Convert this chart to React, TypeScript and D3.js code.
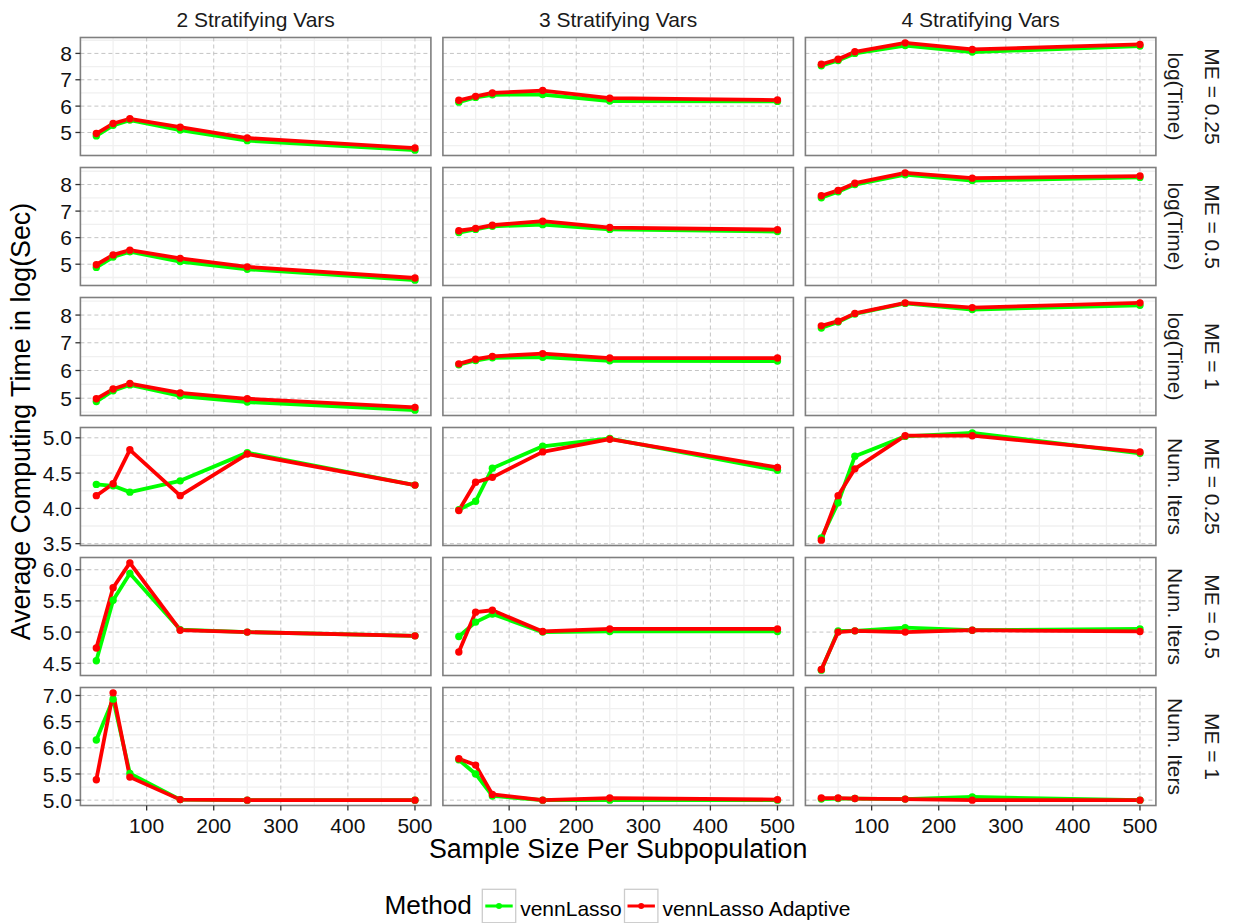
import React from "react";
import * as d3 from "d3";

// ---------- data ----------
const sampleSizes = [25, 50, 75, 150, 250, 500];
const stratVars = ["2 Stratifying Vars", "3 Stratifying Vars", "4 Stratifying Vars"];
const meLevels = ["ME = 0.25", "ME = 0.5", "ME = 1"];
const measures = ["log(Time)", "Num. Iters"];
const methods = ["vennLasso", "vennLasso Adaptive"];
const methodColors = ["#00ff00", "#ff0000"];
const xTicks = [100, 200, 300, 400, 500];

// [ME][stratVars][sampleSize]
const logTimeVennLasso = [
  [
    [4.87, 5.27, 5.47, 5.09, 4.69, 4.33],
    [6.15, 6.33, 6.43, 6.44, 6.19, 6.18],
    [7.53, 7.73, 8.0, 8.3, 8.05, 8.28],
  ],
  [
    [4.88, 5.27, 5.47, 5.1, 4.81, 4.4],
    [6.19, 6.31, 6.43, 6.49, 6.31, 6.23],
    [7.5, 7.73, 8.0, 8.37, 8.15, 8.27],
  ],
  [
    [4.88, 5.27, 5.48, 5.08, 4.86, 4.57],
    [6.21, 6.36, 6.46, 6.48, 6.35, 6.34],
    [7.53, 7.75, 8.04, 8.42, 8.2, 8.35],
  ],
];
const logTimeAdaptive = [
  [
    [4.96, 5.34, 5.52, 5.2, 4.79, 4.41],
    [6.22, 6.37, 6.5, 6.59, 6.3, 6.23],
    [7.59, 7.78, 8.06, 8.4, 8.15, 8.34],
  ],
  [
    [4.98, 5.35, 5.53, 5.22, 4.9, 4.48],
    [6.26, 6.35, 6.47, 6.62, 6.38, 6.3],
    [7.58, 7.78, 8.05, 8.44, 8.24, 8.32],
  ],
  [
    [4.98, 5.33, 5.53, 5.19, 4.98, 4.67],
    [6.24, 6.41, 6.51, 6.61, 6.45, 6.45],
    [7.61, 7.78, 8.06, 8.44, 8.27, 8.44],
  ],
];
const itersVennLasso = [
  [
    [4.34, 4.32, 4.23, 4.39, 4.79, 4.33],
    [3.98, 4.1, 4.57, 4.88, 4.99, 4.54],
    [3.58, 4.08, 4.74, 5.02, 5.07, 4.78],
  ],
  [
    [4.54, 5.51, 5.94, 5.04, 5.0, 4.94],
    [4.93, 5.16, 5.29, 5.0, 5.01, 5.01],
    [4.39, 5.02, 5.02, 5.07, 5.03, 5.05],
  ],
  [
    [6.15, 6.93, 5.51, 5.01, 5.0, 5.0],
    [5.77, 5.5, 5.08, 5.0, 5.0, 5.0],
    [5.02, 5.03, 5.03, 5.02, 5.06, 5.0],
  ],
];
const itersAdaptive = [
  [
    [4.18, 4.35, 4.83, 4.18, 4.77, 4.33],
    [3.97, 4.37, 4.44, 4.8, 4.98, 4.58],
    [3.55, 4.18, 4.56, 5.03, 5.03, 4.8],
  ],
  [
    [4.745, 5.71, 6.11, 5.03, 5.0, 4.94],
    [4.68, 5.32, 5.35, 5.01, 5.05, 5.05],
    [4.4, 5.0, 5.02, 5.0, 5.03, 5.01],
  ],
  [
    [5.39, 7.05, 5.44, 5.01, 5.0, 5.0],
    [5.79, 5.67, 5.11, 5.0, 5.04, 5.01],
    [5.04, 5.04, 5.03, 5.02, 5.0, 5.0],
  ],
];

const measureData = [
  [logTimeVennLasso, logTimeAdaptive],
  [itersVennLasso, itersAdaptive],
];

// ---------- layout ----------
const W = 1233;
const H = 923;
const panelLeft = 80.4;
const panelW = 350.5;
const colGap = 12;
const panelTop = 37.5;
const panelH = 118;
const rowGap = 12;
const FONT = "'Liberation Sans', Arial, Helvetica, sans-serif";
const SMALL = 21;
const BIG = 26.8;

function expand(ext: [number, number]): [number, number] {
  const d = ext[1] - ext[0];
  return [ext[0] - d * 0.05, ext[1] + d * 0.05];
}

const xDomain = expand(d3.extent(sampleSizes) as [number, number]);
const xScale = d3.scaleLinear().domain(xDomain).range([0, panelW]);
const xMinor = [50, 150, 250, 350, 450].filter(
  (v) => v >= xDomain[0] && v <= xDomain[1]
);

const rows = measures.flatMap((m, mi) =>
  meLevels.map((me, ei) => ({ measure: m, me, mi, ei }))
);

export default function App() {
  const lineGen = d3
    .line<number>()
    .x((_, i) => xScale(sampleSizes[i]))
    .y((d) => d);

  return (
    <div style={{ position: "absolute", left: 0, top: 0 }}>
      <svg width={W} height={H} style={{ display: "block", background: "#fff" }}>
        {/* column strips */}
        {stratVars.map((s, ci) => (
          <text
            key={s}
            x={panelLeft + ci * (panelW + colGap) + panelW / 2}
            y={26.5}
            textAnchor="middle"
            fontFamily={FONT}
            fontSize={SMALL}
            fill="#1a1a1a"
          >
            {s}
          </text>
        ))}
        {rows.map((r, ri) => {
          const top = panelTop + ri * (panelH + rowGap);
          const allVals: number[] = [];
          measureData[r.mi].forEach((md) =>
            md[r.ei].forEach((arr) => allVals.push(...arr))
          );
          const yDomain = expand(d3.extent(allVals) as [number, number]);
          const yScale = d3.scaleLinear().domain(yDomain).range([panelH, 0]);
          const yTicks = yScale.ticks(5);
          const step = yTicks[1] - yTicks[0];
          const fmt = yScale.tickFormat(5);
          const yMinor: number[] = [];
          for (let i = -1; i < yTicks.length; i++) {
            const v = yTicks[0] + (i + 0.5) * step;
            if (v >= yDomain[0] && v <= yDomain[1]) yMinor.push(v);
          }
          const isBottom = ri === rows.length - 1;
          return (
            <g key={ri}>
              {stratVars.map((s, ci) => {
                const left = panelLeft + ci * (panelW + colGap);
                return (
                  <g key={s} transform={`translate(${left},${top})`}>
                    <rect x={0} y={0} width={panelW} height={panelH} fill="#fff" />
                    {/* minor grid */}
                    {xMinor.map((v) => (
                      <line
                        key={"xm" + v}
                        x1={xScale(v)}
                        x2={xScale(v)}
                        y1={0}
                        y2={panelH}
                        stroke="#f0f0f0"
                        strokeWidth={1.3}
                      />
                    ))}
                    {yMinor.map((v) => (
                      <line
                        key={"ym" + v}
                        x1={0}
                        x2={panelW}
                        y1={yScale(v)}
                        y2={yScale(v)}
                        stroke="#f0f0f0"
                        strokeWidth={1.3}
                      />
                    ))}
                    {/* major grid */}
                    {xTicks.map((v) => (
                      <line
                        key={"x" + v}
                        x1={xScale(v)}
                        x2={xScale(v)}
                        y1={0}
                        y2={panelH}
                        stroke="#c4c4c4"
                        strokeWidth={1}
                        strokeDasharray="4,3"
                      />
                    ))}
                    {yTicks.map((v) => (
                      <line
                        key={"y" + v}
                        x1={0}
                        x2={panelW}
                        y1={yScale(v)}
                        y2={yScale(v)}
                        stroke="#c4c4c4"
                        strokeWidth={1}
                        strokeDasharray="4,3"
                      />
                    ))}
                    {/* lines */}
                    {methods.map((m, k) => (
                      <path
                        key={"l" + m}
                        d={lineGen(measureData[r.mi][k][r.ei][ci].map((v) => yScale(v))) || ""}
                        fill="none"
                        stroke={methodColors[k]}
                        strokeWidth={3.8}
                        strokeLinejoin="round"
                        strokeLinecap="round"
                      />
                    ))}
                    {/* points */}
                    {methods.map((m, k) =>
                      measureData[r.mi][k][r.ei][ci].map((v, i) => (
                        <circle
                          key={"p" + m + i}
                          cx={xScale(sampleSizes[i])}
                          cy={yScale(v)}
                          r={3.7}
                          fill={methodColors[k]}
                        />
                      ))
                    )}
                    <rect
                      x={0}
                      y={0}
                      width={panelW}
                      height={panelH}
                      fill="none"
                      stroke="#7f7f7f"
                      strokeWidth={1.6}
                    />
                    {/* y axis on first column */}
                    {ci === 0 &&
                      yTicks.map((v) => (
                        <g key={"yt" + v}>
                          <line
                            x1={-5}
                            x2={0}
                            y1={yScale(v)}
                            y2={yScale(v)}
                            stroke="#333"
                            strokeWidth={1.3}
                          />
                          <text
                            x={-8.5}
                            y={yScale(v)}
                            dy="0.36em"
                            textAnchor="end"
                            fontFamily={FONT}
                            fontSize={SMALL}
                            fill="#111"
                          >
                            {fmt(v)}
                          </text>
                        </g>
                      ))}
                    {/* x axis on bottom row */}
                    {isBottom &&
                      xTicks.map((v) => (
                        <g key={"xt" + v}>
                          <line
                            x1={xScale(v)}
                            x2={xScale(v)}
                            y1={panelH}
                            y2={panelH + 5}
                            stroke="#333"
                            strokeWidth={1.3}
                          />
                          <text
                            x={xScale(v)}
                            y={panelH + 27.5}
                            textAnchor="middle"
                            fontFamily={FONT}
                            fontSize={SMALL}
                            fill="#111"
                          >
                            {v}
                          </text>
                        </g>
                      ))}
                  </g>
                );
              })}
              {/* row strips */}
              <text
                transform={`translate(1167.5,${top + panelH / 2}) rotate(90)`}
                textAnchor="middle"
                fontFamily={FONT}
                fontSize={SMALL}
                fill="#1a1a1a"
              >
                {r.measure}
              </text>
              <text
                transform={`translate(1205,${top + panelH / 2}) rotate(90)`}
                textAnchor="middle"
                fontFamily={FONT}
                fontSize={SMALL}
                fill="#1a1a1a"
              >
                {r.me}
              </text>
            </g>
          );
        })}
        {/* axis titles */}
        <text
          x={panelLeft + (3 * panelW + 2 * colGap) / 2}
          y={858}
          textAnchor="middle"
          fontFamily={FONT}
          fontSize={BIG}
          fill="#000"
        >
          Sample Size Per Subpopulation
        </text>
        <text
          transform={`translate(29.5,${panelTop + (6 * panelH + 5 * rowGap) / 2}) rotate(-90)`}
          textAnchor="middle"
          fontFamily={FONT}
          fontSize={BIG}
          fill="#000"
        >
          Average Computing Time in log(Sec)
        </text>
        {/* legend */}
        <text x={384.5} y={913.5} fontFamily={FONT} fontSize={26.2} fill="#000">
          Method
        </text>
        {methods.map((m, k) => {
          const bx = k === 0 ? 482.3 : 624.5;
          const by = 889.3;
          const bs = 33.4;
          return (
            <g key={"lg" + m}>
              <rect
                x={bx}
                y={by}
                width={bs}
                height={bs}
                fill="#fff"
                stroke="#cccccc"
                strokeWidth={1.3}
              />
              <line
                x1={bx + 3}
                x2={bx + bs - 3}
                y1={by + bs / 2}
                y2={by + bs / 2}
                stroke={methodColors[k]}
                strokeWidth={3}
              />
              <circle cx={bx + bs / 2} cy={by + bs / 2} r={3} fill={methodColors[k]} />
              <text
                x={bx + bs + 4.5}
                y={915.5}
                fontFamily={FONT}
                fontSize={SMALL}
                fill="#000"
              >
                {m}
              </text>
            </g>
          );
        })}
      </svg>
    </div>
  );
}
